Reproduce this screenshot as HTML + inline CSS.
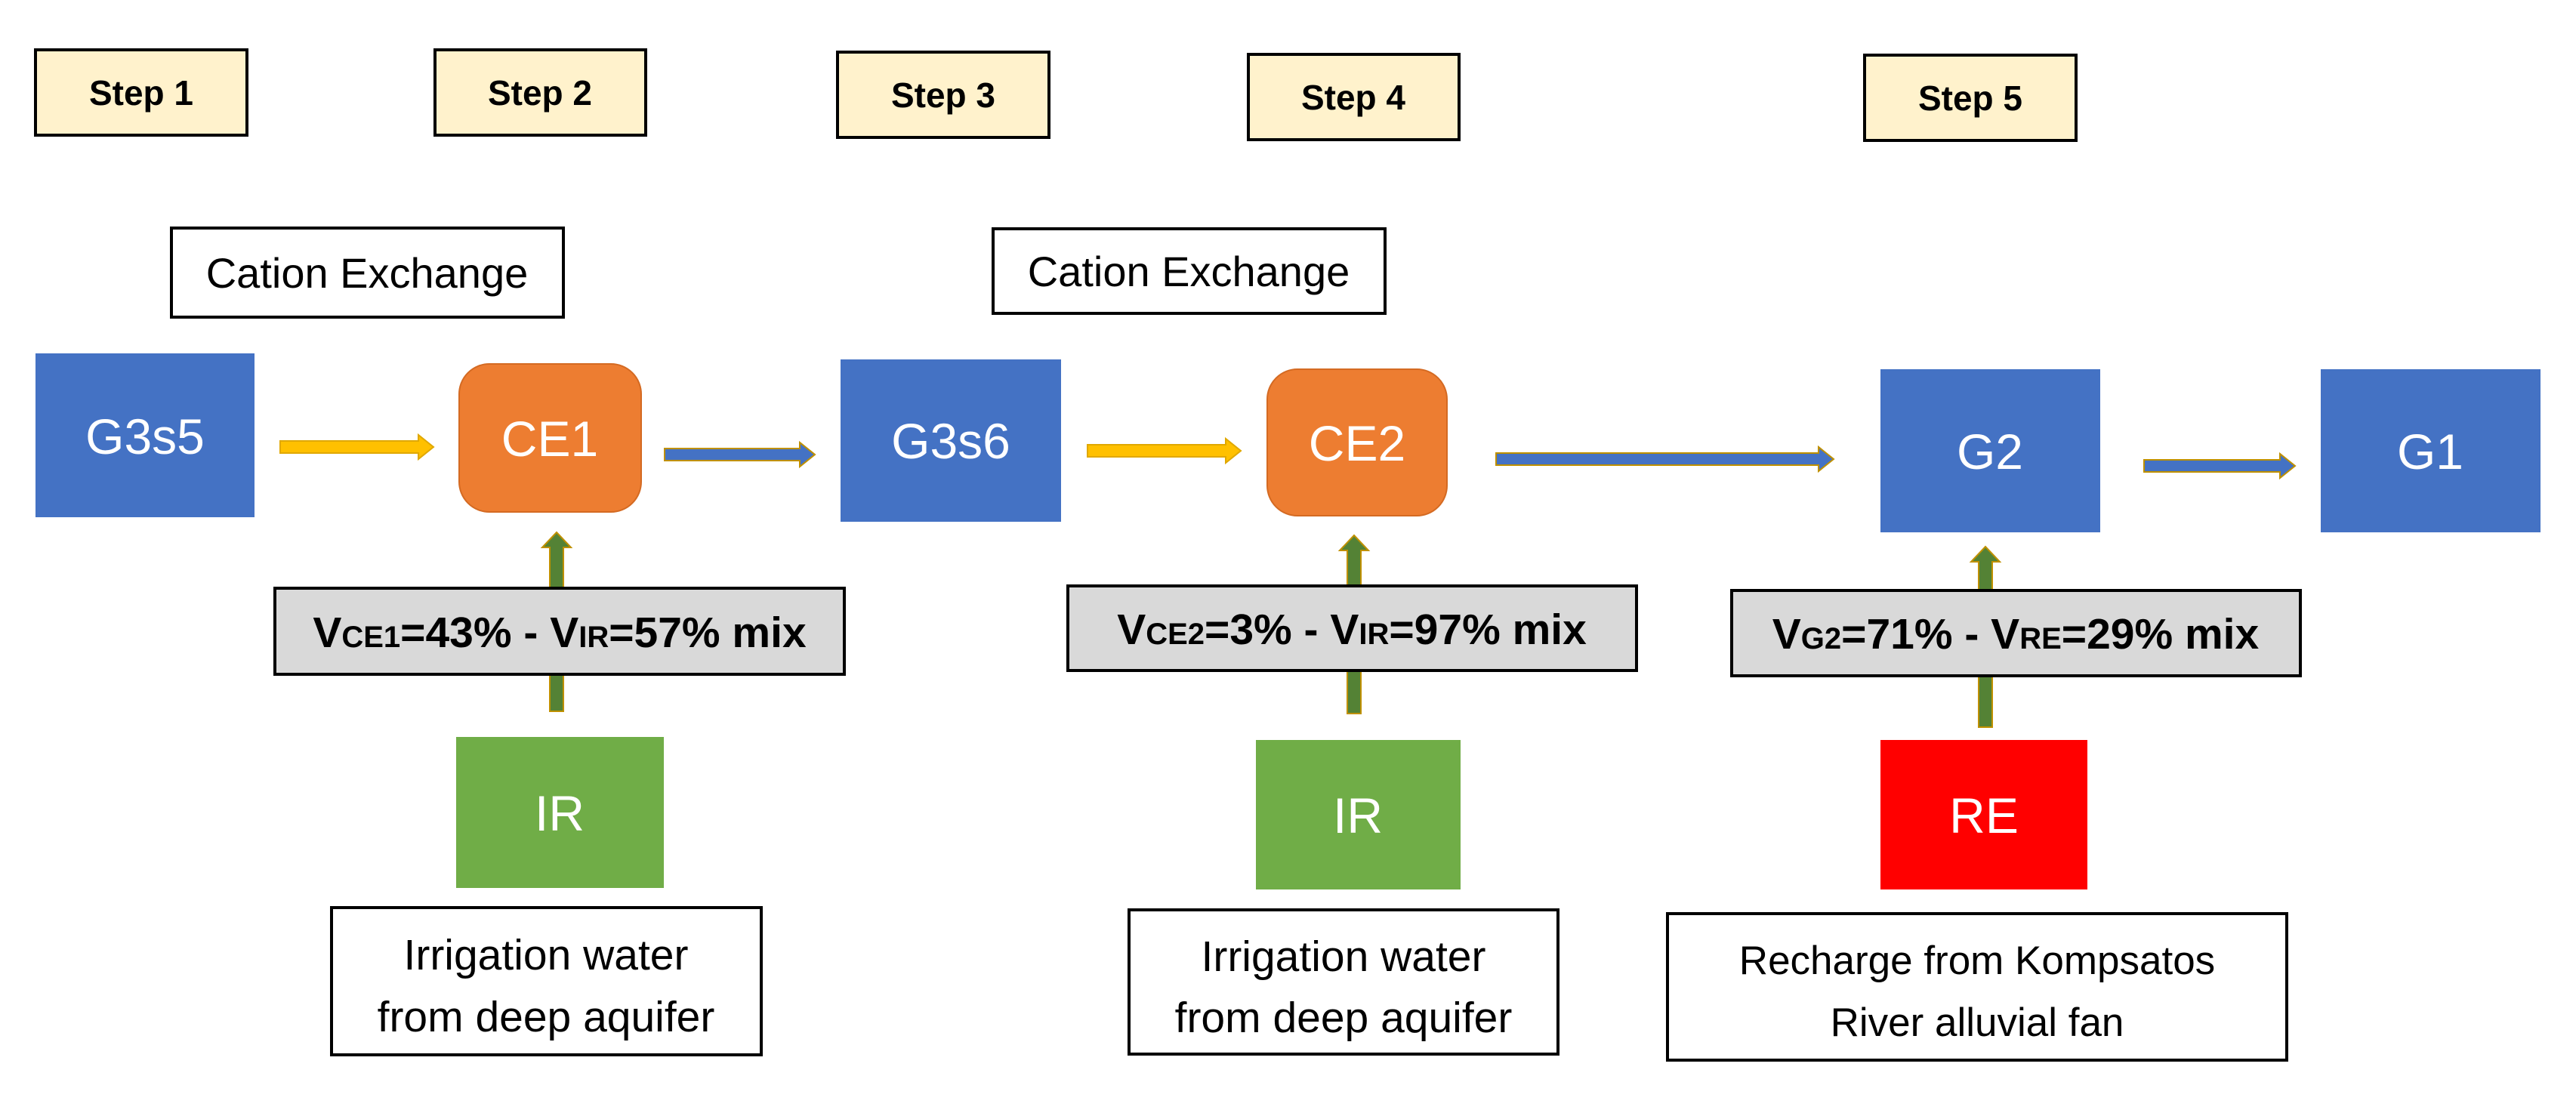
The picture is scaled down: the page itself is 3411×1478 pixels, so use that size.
<!DOCTYPE html>
<html><head><meta charset="utf-8"><style>
html,body{margin:0;padding:0;background:#fff;}
svg{display:block;}
text{font-family:"Liberation Sans",sans-serif;}
</style></head><body>
<svg width="3411" height="1478" viewBox="0 0 3411 1478" xmlns="http://www.w3.org/2000/svg">
<rect width="3411" height="1478" fill="#fff"/>
<g fill="#FFF2CC" stroke="#000" stroke-width="4">
<rect x="47" y="66" width="280" height="113"/>
<rect x="576" y="66" width="279" height="113"/>
<rect x="1109" y="69" width="280" height="113"/>
<rect x="1653" y="72" width="279" height="113"/>
<rect x="2469" y="73" width="280" height="113"/>
</g>
<g font-size="46" font-weight="bold" text-anchor="middle" fill="#000">
<text x="187" y="139">Step 1</text>
<text x="715" y="139">Step 2</text>
<text x="1249" y="142">Step 3</text>
<text x="1792" y="145">Step 4</text>
<text x="2609" y="146">Step 5</text>
</g>
<g fill="#fff" stroke="#000" stroke-width="4">
<rect x="227" y="302" width="519" height="118"/>
<rect x="1315" y="303" width="519" height="112"/>
<rect x="439" y="1202" width="569" height="195"/>
<rect x="1495" y="1205" width="568" height="191"/>
<rect x="2208" y="1210" width="820" height="194"/>
</g>
<g font-size="56" text-anchor="middle" fill="#000">
<text x="486" y="381">Cation Exchange</text>
<text x="1574" y="379">Cation Exchange</text>
</g>
<g font-size="57" text-anchor="middle" fill="#000">
<text x="723" y="1284">Irrigation water</text>
<text x="723" y="1366">from  deep aquifer</text>
<text x="1779" y="1286">Irrigation water</text>
<text x="1779" y="1367">from  deep aquifer</text>
</g>
<g font-size="53" text-anchor="middle" fill="#000">
<text x="2618" y="1290">Recharge from Kompsatos</text>
<text x="2618" y="1372">River alluvial fan</text>
</g>
<g fill="#4472C4">
<rect x="47" y="468" width="290" height="217"/>
<rect x="1113" y="476" width="292" height="215"/>
<rect x="2490" y="489" width="291" height="216"/>
<rect x="3073" y="489" width="291" height="216"/>
</g>
<g fill="#ED7D31" stroke="#D46A22" stroke-width="2">
<rect x="608" y="482" width="241" height="196" rx="40"/>
<rect x="1678" y="489" width="238" height="194" rx="40"/>
</g>
<rect x="604" y="976" width="275" height="200" fill="#70AD47"/>
<rect x="1663" y="980" width="271" height="198" fill="#70AD47"/>
<rect x="2490" y="980" width="274" height="198" fill="#FF0000"/>
<g font-size="66" text-anchor="middle" fill="#fff">
<text x="192" y="601">G3s5</text>
<text x="728" y="604">CE1</text>
<text x="1259" y="607">G3s6</text>
<text x="1797" y="610">CE2</text>
<text x="2635" y="621">G2</text>
<text x="3218" y="621">G1</text>
<text x="741" y="1100">IR</text>
<text x="1798" y="1103">IR</text>
<text x="2627" y="1103">RE</text>
</g>
<g stroke-width="2">
<polygon points="371,584 554,584 554,576 574,592 554,608 554,600 371,600" fill="#FFC000" stroke="#E0A800"/>
<polygon points="880,594 1059,594 1059,586 1079,602 1059,618 1059,610 880,610" fill="#4472C4" stroke="#BF9000"/>
<polygon points="1440,589 1623,589 1623,581 1643,597 1623,613 1623,605 1440,605" fill="#FFC000" stroke="#E0A800"/>
<polygon points="1981,600 2408,600 2408,592 2428,608 2408,624 2408,616 1981,616" fill="#4472C4" stroke="#BF9000"/>
<polygon points="2839,609 3019,609 3019,601 3039,617 3019,633 3019,625 2839,625" fill="#4472C4" stroke="#BF9000"/>
</g>
<g fill="#548235" stroke="#BF9000" stroke-width="2">
<polygon points="728,942 728,725 718,725 737,705 756,725 746,725 746,942"/>
<polygon points="1784,945 1784,729 1774,729 1793,709 1812,729 1802,729 1802,945"/>
<polygon points="2620,963 2620,744 2610,744 2629,724 2648,744 2638,744 2638,963"/>
</g>
<g fill="#D9D9D9" stroke="#000" stroke-width="4">
<rect x="364" y="779" width="754" height="114"/>
<rect x="1414" y="776" width="753" height="112"/>
<rect x="2293" y="782" width="753" height="113"/>
</g>
<g font-size="57" font-weight="bold" text-anchor="middle" fill="#000">
<text x="741" y="857">V<tspan font-size="40">CE1</tspan>=43% - V<tspan font-size="40">IR</tspan>=57% mix</text>
<text x="1790" y="853">V<tspan font-size="40">CE2</tspan>=3% - V<tspan font-size="40">IR</tspan>=97% mix</text>
<text x="2669" y="859">V<tspan font-size="40">G2</tspan>=71% - V<tspan font-size="40">RE</tspan>=29% mix</text>
</g>
</svg>
</body></html>
